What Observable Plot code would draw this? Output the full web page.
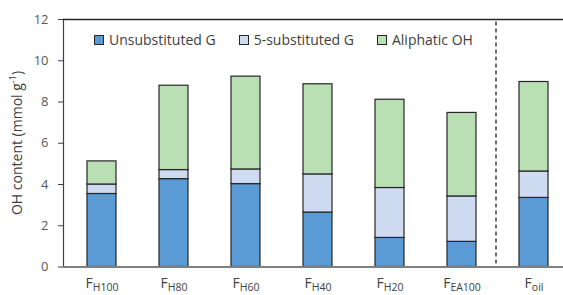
<!DOCTYPE html>
<html>
<head>
<meta charset="utf-8">
<script src="https://cdn.jsdelivr.net/npm/d3@7"></script>
<script src="https://cdn.jsdelivr.net/npm/@observablehq/plot@0.6"></script>
<style>
  body { margin: 0; background: #fff; }
  #wrap { position: relative; width: 563px; height: 295px; font-family: "Open Sans", Lato, sans-serif; }
  #legend { position: absolute; top: 30px; left: 94px; display: flex; font-size: 14px; color: #404040; white-space: nowrap; }
  #legend .item { display: flex; align-items: center; }
  #legend .sw { width: 8px; height: 8px; border: 1px solid #262626; margin-right: 5px; }
</style>
</head>
<body>
<div id="wrap"></div>
<script>
// Data
const categories = ["H100", "H80", "H60", "H40", "H20", "EA100", "oil"];
const seriesNames = ["Unsubstituted G", "5-substituted G", "Aliphatic OH"];
const unsubstitutedG = [3.54, 4.26, 4.02, 2.64, 1.41, 1.22, 3.35];
const fiveSubstitutedG = [0.46, 0.44, 0.71, 1.85, 2.42, 2.20, 1.28];
const aliphaticOH = [1.12, 4.09, 4.50, 4.37, 4.28, 4.05, 4.34];
const yTicks = [0, 2, 4, 6, 8, 10, 12];
const colors = ["#5b9bd5", "#cfdbf0", "#badfb5"];
const yLabelMain = "OH content (mmol g";
const yLabelSup = "-1";

const seriesValues = [unsubstitutedG, fiveSubstitutedG, aliphaticOH];
const rows = [];
seriesNames.forEach((s, si) => {
  categories.forEach((c, ci) => rows.push({cat: c, series: s, value: seriesValues[si][ci]}));
});

const FONT = "'Open Sans', Lato, sans-serif";

const plot = Plot.plot({
  width: 563,
  height: 295,
  marginLeft: 63,
  marginRight: -9,
  marginTop: 19,
  marginBottom: 28.5,
  style: {fontFamily: FONT, fontSize: "13px", color: "#595959", background: "transparent"},
  x: {domain: categories, paddingInner: 0.6, paddingOuter: 0.3, label: null},
  y: {domain: [0, 12], label: null},
  color: {domain: seriesNames, range: colors},
  marks: [
    Plot.barY(rows, {x: "cat", y: "value", fill: "series", stroke: "#262626", strokeWidth: 1.2}),
    Plot.ruleX(["EA100"], {dx: 34, y1: 0.15, y2: 12, stroke: "#404040", strokeWidth: 1.5, strokeDasharray: "4,3"}),
    Plot.frame({anchor: "left", stroke: "#404040", strokeWidth: 1.2}),
    Plot.frame({anchor: "top", stroke: "#262626", strokeWidth: 1.5}),
    Plot.ruleY([0], {stroke: "#7f7f7f", strokeWidth: 2}),
    Plot.axisY({ticks: yTicks, tickSize: 5, tickPadding: 10, tickFormat: d => d, label: null, fontSize: 13, stroke: "#404040"}),
    Plot.axisX({tickSize: 0, tickPadding: 11, label: null, fontSize: 14, fill: "#404040"})
  ]
});

document.getElementById("wrap").appendChild(plot);

// Rebuild x tick labels as F with subscript
d3.select(plot).selectAll('[aria-label="x-axis tick label"] text').each(function(d) {
  const t = d3.select(this);
  const label = typeof d === "string" ? d : t.text();
  t.text(null);
  t.append("tspan").text("F");
  t.append("tspan").attr("font-size", 10.5).attr("dy", "3.5").text(label);
});

// Y axis label with superscript
const yl = d3.select(plot).append("text")
  .attr("transform", "translate(22,143) rotate(-90)")
  .attr("text-anchor", "middle")
  .attr("fill", "#404040")
  .attr("font-size", 14)
  .attr("font-family", FONT);
yl.append("tspan").text(yLabelMain);
yl.append("tspan").attr("font-size", 9).attr("dy", "-6").text(yLabelSup);
yl.append("tspan").attr("dy", "6").text(")");

// Legend
const legend = d3.select("#wrap").append("div").attr("id", "legend");
seriesNames.forEach((s, i) => {
  const it = legend.append("div").attr("class", "item").style("margin-right", "23px");
  it.append("div").attr("class", "sw").style("background", colors[i]);
  it.append("span").text(s);
});
</script>
</body>
</html>
